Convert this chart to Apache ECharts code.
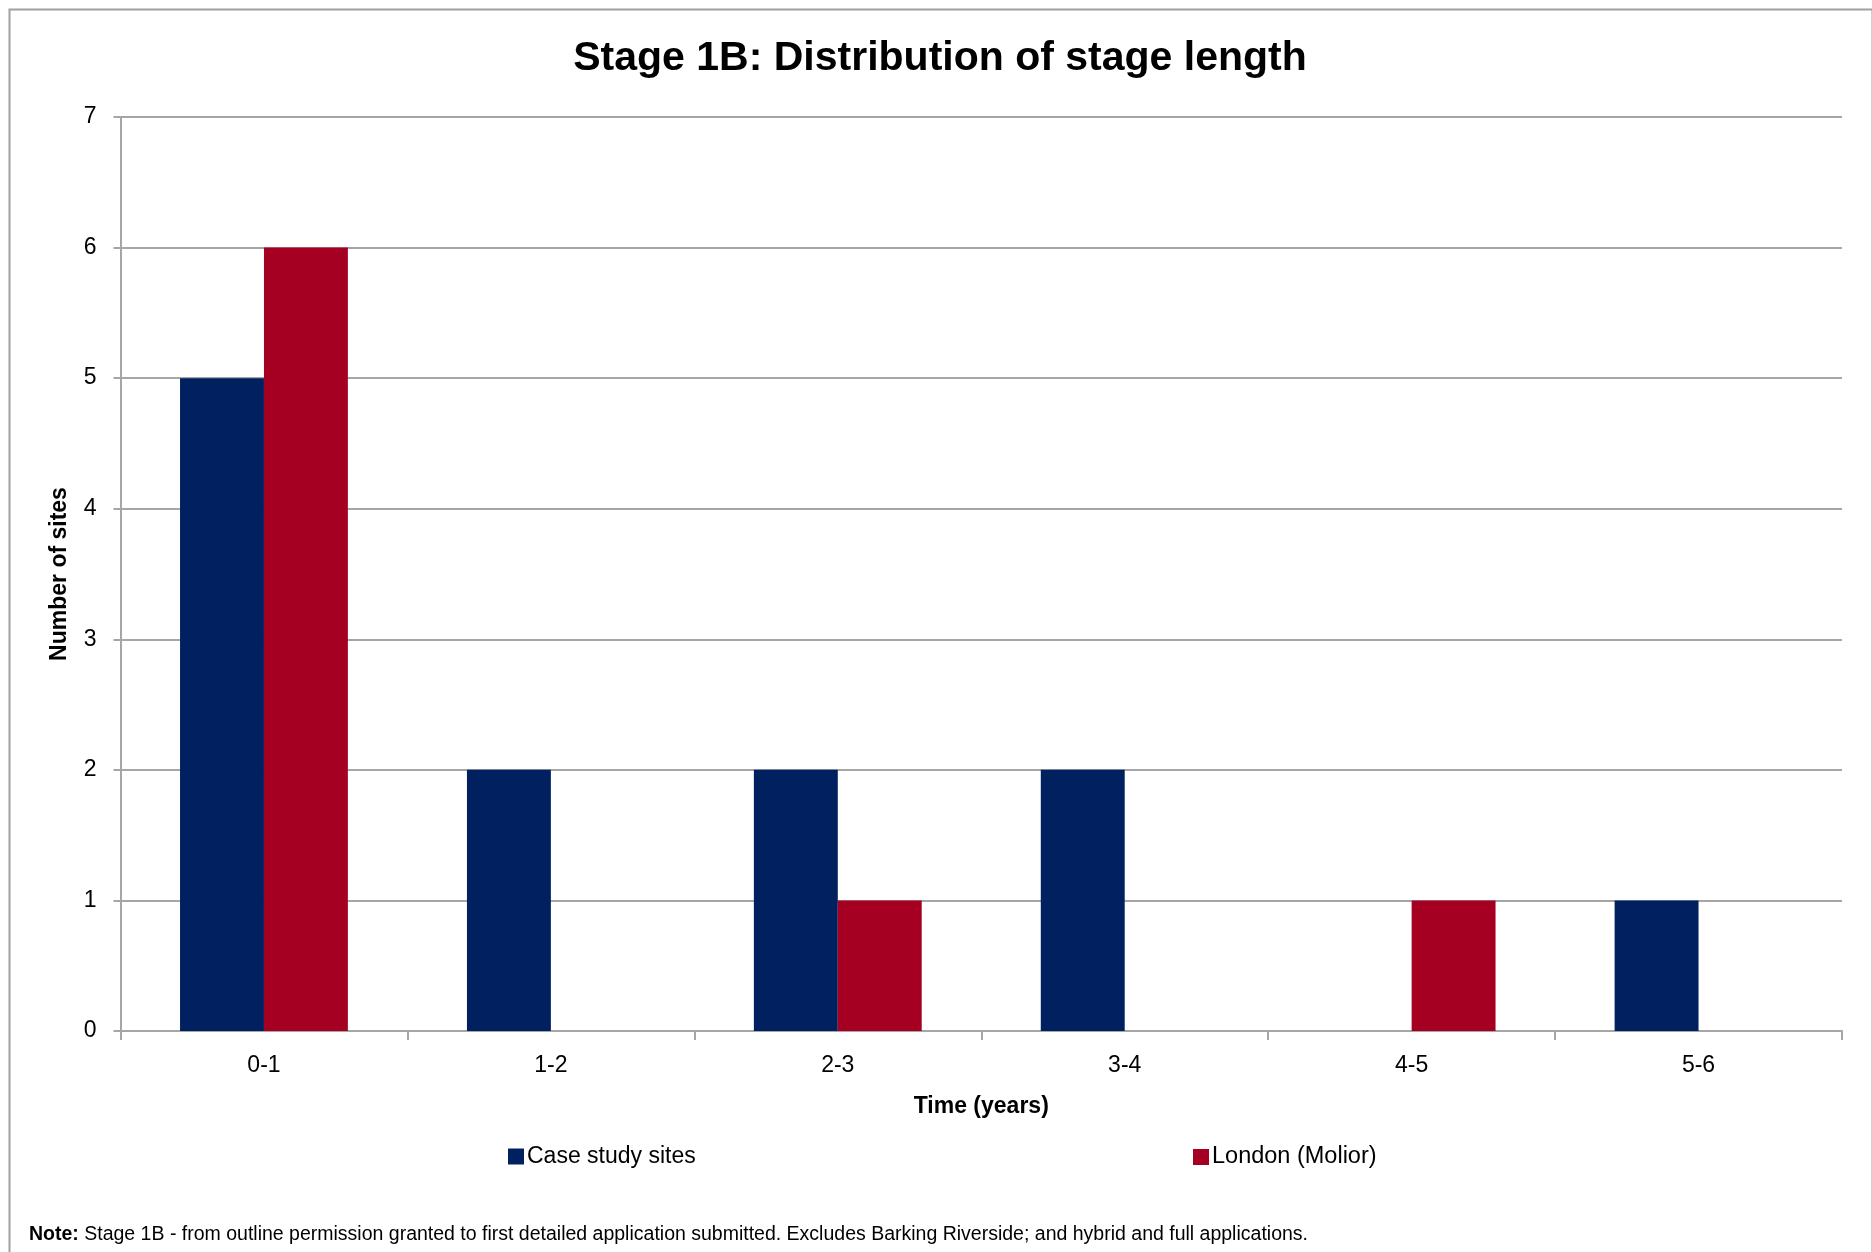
<!DOCTYPE html>
<html>
<head>
<meta charset="utf-8">
<script src="https://cdn.jsdelivr.net/npm/echarts@6/dist/echarts.min.js"></script>
<style>
html,body{margin:0;padding:0;background:#fff;}
#chart{width:1872px;height:1252px;}
</style>
</head>
<body>
<div id="chart"></div>
<script>
const categories = ['0-1', '1-2', '2-3', '3-4', '4-5', '5-6'];
const caseStudySites = [5, 2, 2, 2, 0, 1];
const londonMolior = [6, 0, 1, 0, 1, 0];
const yTicks = [0, 1, 2, 3, 4, 5, 6, 7];

const FONT = '"Liberation Sans", Arial, sans-serif';
const chart = echarts.init(document.getElementById('chart'));
chart.setOption({
  backgroundColor: '#ffffff',
  animation: false,
  title: {
    text: 'Stage 1B: Distribution of stage length',
    left: 935, top: 33, textAlign: 'center',
    textStyle: { fontFamily: FONT, fontSize: 41, fontWeight: 'bold', color: '#000' }
  },
  legend: [
    { data: ['Case study sites'], left: 503, top: 1140, itemWidth: 16, itemHeight: 16, itemGap: 6,
      textStyle: { fontFamily: FONT, fontSize: 23, color: '#000', padding: [0,0,0,-2] }, icon: 'rect' },
    { data: ['London (Molior)'], left: 1188, top: 1140, itemWidth: 16, itemHeight: 16, itemGap: 6,
      textStyle: { fontFamily: FONT, fontSize: 23.5, color: '#000', padding: [0,0,0,-2] }, icon: 'rect' }
  ],
  grid: { left: 120.5, right: 30, top: 117, bottom: 221, containLabel: false },
  xAxis: {
    type: 'category', data: categories, boundaryGap: true,
    name: 'Time (years)', nameLocation: 'middle', nameGap: 64,
    nameTextStyle: { fontFamily: FONT, fontSize: 23, fontWeight: 'bold', color: '#000' },
    axisLine: { lineStyle: { color: '#A6A6A6', width: 2 } },
    axisTick: { show: true, length: 9, alignWithLabel: false, lineStyle: { color: '#A6A6A6', width: 2 } },
    axisLabel: { fontFamily: FONT, fontSize: 23, color: '#000', margin: 23 },
    splitLine: { show: false }
  },
  yAxis: {
    type: 'value', min: 0, max: 7, interval: 1,
    name: 'Number of sites', nameLocation: 'middle', nameGap: 49,
    nameTextStyle: { fontFamily: FONT, fontSize: 23, fontWeight: 'bold', color: '#000' },
    axisLine: { show: true, lineStyle: { color: '#A6A6A6', width: 2 } },
    axisTick: { show: true, length: 7, lineStyle: { color: '#A6A6A6', width: 2 } },
    axisLabel: { fontFamily: FONT, fontSize: 23, color: '#000', margin: 24,
      formatter: v => yTicks.includes(v) ? String(v) : '' },
    splitLine: { show: true, lineStyle: { color: '#A6A6A6', width: 2 } }
  },
  series: [
    { name: 'Case study sites', type: 'bar', data: caseStudySites, barGap: '0%', barCategoryGap: '41.5%',
      itemStyle: { color: '#00205F' } },
    { name: 'London (Molior)', type: 'bar', data: londonMolior, barGap: '0%', barCategoryGap: '41.5%',
      itemStyle: { color: '#A50021' } }
  ],
  graphic: [
    { type: 'rect', left: 7, top: 7, z: -10, silent: true,
      shape: { x: 0, y: 0, width: 1863, height: 1300 },
      style: { fill: 'none', stroke: '#A0A0A0', lineWidth: 2 } },
    { type: 'text', left: 29, top: 1225,
      style: {
        text: '{b|Note:} Stage 1B - from outline permission granted to first detailed application submitted. Excludes Barking Riverside; and hybrid and full applications.',
        fontFamily: FONT, fontSize: 19.5, fill: '#000',
        rich: { b: { fontFamily: FONT, fontSize: 19.5, fontWeight: 'bold', fill: '#000' } }
      } }
  ]
});
</script>
</body>
</html>
